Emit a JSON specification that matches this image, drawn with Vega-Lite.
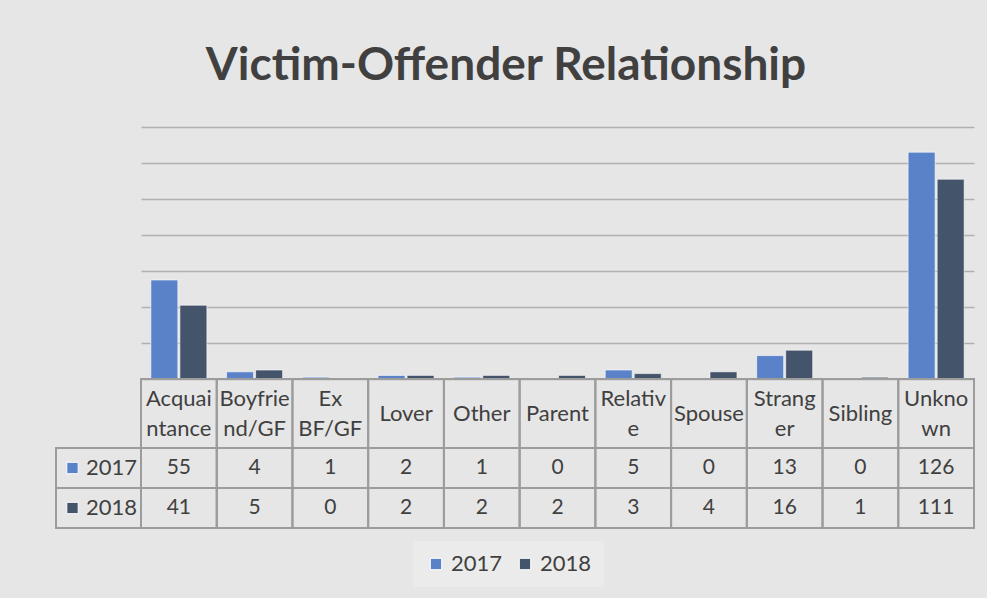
{
  "$schema": "https://vega.github.io/schema/vega-lite/v6.json",
  "background": "#e6e6e6",
  "padding": {"left": 55, "top": 43, "right": 14, "bottom": 15},
  "title": {"text": "Victim-Offender Relationship", "fontSize": 46, "font": "Lato", "fontWeight": "bold", "color": "#404040", "offset": 37, "anchor": "middle", "dx": -9},
  "config": {
    "view": {"stroke": null},
    "font": "Lato",
    "concat": {"spacing": 0}
  },
  "datasets": {
    "rows": [
      {"cat": "Acquaintance", "year": "2017", "n": 55}, {"cat": "Acquaintance", "year": "2018", "n": 41},
      {"cat": "Boyfriend/GF", "year": "2017", "n": 4}, {"cat": "Boyfriend/GF", "year": "2018", "n": 5},
      {"cat": "Ex BF/GF", "year": "2017", "n": 1}, {"cat": "Ex BF/GF", "year": "2018", "n": 0},
      {"cat": "Lover", "year": "2017", "n": 2}, {"cat": "Lover", "year": "2018", "n": 2},
      {"cat": "Other", "year": "2017", "n": 1}, {"cat": "Other", "year": "2018", "n": 2},
      {"cat": "Parent", "year": "2017", "n": 0}, {"cat": "Parent", "year": "2018", "n": 2},
      {"cat": "Relative", "year": "2017", "n": 5}, {"cat": "Relative", "year": "2018", "n": 3},
      {"cat": "Spouse", "year": "2017", "n": 0}, {"cat": "Spouse", "year": "2018", "n": 4},
      {"cat": "Stranger", "year": "2017", "n": 13}, {"cat": "Stranger", "year": "2018", "n": 16},
      {"cat": "Sibling", "year": "2017", "n": 0}, {"cat": "Sibling", "year": "2018", "n": 1},
      {"cat": "Unknown", "year": "2017", "n": 126}, {"cat": "Unknown", "year": "2018", "n": 111}
    ],
    "cats": [
      {"cat": "Acquaintance", "label": "Acquai\nntance"},
      {"cat": "Boyfriend/GF", "label": "Boyfrie\nnd/GF"},
      {"cat": "Ex BF/GF", "label": "Ex\nBF/GF"},
      {"cat": "Lover", "label": "Lover"},
      {"cat": "Other", "label": "Other"},
      {"cat": "Parent", "label": "Parent"},
      {"cat": "Relative", "label": "Relativ\ne"},
      {"cat": "Spouse", "label": "Spouse"},
      {"cat": "Stranger", "label": "Strang\ner"},
      {"cat": "Sibling", "label": "Sibling"},
      {"cat": "Unknown", "label": "Unkno\nwn"}
    ],
    "years": [{"year": "2017"}, {"year": "2018"}]
  },
  "columns": 2,
  "bounds": "flush",
  "spacing": 0,
  "concat": [
    {
      "width": 85, "height": 252,
      "data": {"values": [{}]},
      "mark": {"type": "text", "text": ""}
    },
    {
      "width": 833, "height": 252,
      "data": {"name": "rows"},
      "mark": {"type": "bar", "stroke": "#ffffff", "strokeOpacity": 0.6, "strokeWidth": 1},
      "encoding": {
        "x": {"field": "cat", "type": "nominal", "sort": null, "axis": null, "scale": {"paddingInner": 0.26, "paddingOuter": 0.13}},
        "xOffset": {"field": "year", "type": "nominal", "scale": {"paddingInner": 0.07}},
        "y": {"field": "n", "type": "quantitative", "scale": {"domain": [0, 140]},
              "axis": {"values": [0, 20, 40, 60, 80, 100, 120, 140], "labels": false, "ticks": false, "domain": false, "title": null, "gridColor": "#b0b0b0", "gridWidth": 1.5, "minExtent": 0, "maxExtent": 0}},
        "color": {"field": "year", "type": "nominal", "scale": {"domain": ["2017", "2018"], "range": ["#5a82c8", "#44546a"]},
                  "legend": {"orient": "none", "legendX": 357, "legendY": 414, "direction": "horizontal", "title": null, "symbolType": "square", "symbolSize": 130, "labelFontSize": 22, "labelFont": "Lato", "labelColor": "#404040", "fillColor": "#ebebeb", "padding": 12, "columnPadding": 11, "symbolStrokeColor": "#ffffff", "symbolStrokeWidth": 1}}
      }
    },
    {
      "width": 85, "height": 69,
      "data": {"values": [{}]},
      "mark": {"type": "text", "text": ""}
    },
    {
      "width": 833, "height": 69,
      "data": {"name": "cats"},
      "encoding": {
        "x": {"field": "cat", "type": "nominal", "sort": null, "axis": null, "scale": {"paddingInner": 0, "paddingOuter": 0}}
      },
      "layer": [
        {"mark": {"type": "rect", "fill": "#ffffff", "fillOpacity": 0, "stroke": "#9c9c9c", "strokeWidth": 2}},
        {"transform": [{"filter": "indexof(datum.label, '\\n') < 0"}],
         "mark": {"type": "text", "fontSize": 22, "color": "#404040", "baseline": "middle"},
         "encoding": {"text": {"field": "label"}}},
        {"transform": [{"filter": "indexof(datum.label, '\\n') >= 0"}],
         "mark": {"type": "text", "fontSize": 22, "color": "#404040", "lineBreak": "\n", "lineHeight": 30, "baseline": "middle", "dy": -15},
         "encoding": {"text": {"field": "label"}}}
      ]
    },
    {
      "width": 85, "height": 80,
      "data": {"name": "years"},
      "encoding": {
        "y": {"field": "year", "type": "nominal", "axis": null, "scale": {"paddingInner": 0, "paddingOuter": 0}}
      },
      "layer": [
        {"mark": {"type": "rect", "fill": "#ffffff", "fillOpacity": 0, "stroke": "#9c9c9c", "strokeWidth": 2}},
        {"mark": {"type": "point", "shape": "square", "filled": true, "size": 130, "opacity": 1, "xOffset": -26, "stroke": "#ffffff", "strokeWidth": 1},
         "encoding": {"color": {"field": "year", "type": "nominal"}}},
        {"mark": {"type": "text", "fontSize": 22, "color": "#404040", "dx": 13},
         "encoding": {"text": {"field": "year"}}}
      ]
    },
    {
      "width": 833, "height": 80,
      "data": {"name": "rows"},
      "encoding": {
        "x": {"field": "cat", "type": "nominal", "sort": null, "axis": null, "scale": {"paddingInner": 0, "paddingOuter": 0}},
        "y": {"field": "year", "type": "nominal", "axis": null, "scale": {"paddingInner": 0, "paddingOuter": 0}}
      },
      "layer": [
        {"mark": {"type": "rect", "fill": "#ffffff", "fillOpacity": 0, "stroke": "#9c9c9c", "strokeWidth": 2}},
        {"mark": {"type": "text", "fontSize": 21, "color": "#404040"},
         "encoding": {"text": {"field": "n"}}}
      ]
    }
  ]
}
